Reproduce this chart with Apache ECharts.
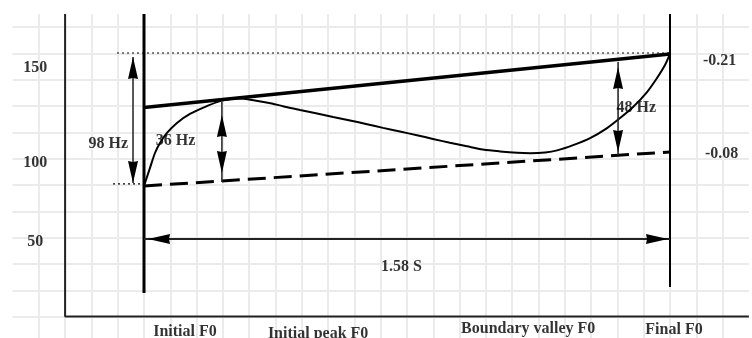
<!DOCTYPE html>
<html>
<head>
<meta charset="utf-8">
<title>F0 contour</title>
<style>
  html, body { margin: 0; padding: 0; background: #fff; }
  #chart { width: 752px; height: 338px; }
</style>
<script src="https://cdn.jsdelivr.net/npm/echarts@6/dist/echarts.min.js"></script>
</head>
<body>
<div id="chart"></div>
<script>
// F0 contour sketch: time in seconds, pitch in Hz

const f0Time = [0, 0.018, 0.033, 0.048, 0.069, 0.099, 0.138, 0.189, 0.234, 0.285,
  0.333, 0.384, 0.420, 0.469, 0.520, 0.568, 0.619, 0.670, 0.718, 0.769,
  0.820, 0.868, 0.919, 0.970, 1.018, 1.069, 1.121, 1.160, 1.205, 1.241,
  1.289, 1.340, 1.391, 1.430, 1.469, 1.511, 1.541, 1.565, 1.580];
const f0Hz = [84.3, 94.6, 103.1, 108.8, 114.5, 120.2, 125.3, 129.8, 132.9, 134.1,
  133.0, 131.3, 129.6, 127.6, 125.6, 123.6, 121.6, 119.5, 117.4, 115.3,
  113.2, 111.1, 108.9, 106.9, 105.1, 104.0, 103.2, 103.0, 103.4, 104.6,
  107.6, 111.6, 117.3, 123.0, 129.3, 137.8, 145.8, 153.2, 159.5];

// top line / base line of the contour (start, end)
const topHz = [129.0, 159.5];
const baseHz = [84.3, 103.7];
const lineSlopes = ['-0.21', '-0.08'];

const duration = 1.58;
const durationLabel = '1.58 S';

// pitch range arrows
const rangeLabels = ['98 Hz', '36 Hz', '48 Hz'];
const rangeTime = [-0.033, 0.234, 1.424];
const rangeLow = [86.0, 86.6, 102.0];
const rangeHigh = [157.7, 132.1, 154.9];

const yTickValues = [150, 100, 50];
const yTickLabels = ['150', '100', '50'];

const eventLabels = ['Initial F0', 'Initial peak F0', 'Boundary valley F0', 'Final F0'];

// ---- layout helpers ----
const X_CELL = 0.079;            // seconds per background grid cell
const T_MIN = -5 * X_CELL, T_MAX = 23 * X_CELL;
const HZ_MIN = -2.18, HZ_MAX = 182.2;

const FONT = { fontFamily: "'Liberation Serif', 'DejaVu Serif', serif", fontWeight: 'bold', fontSize: 16, color: '#000' };

const HEAD = {
  up: 'path://M5,0L10,22L5,21L0,22Z',
  down: 'path://M0,0L5,1L10,0L5,22Z',
  left: 'path://M0,5L22,0L21,5L22,10Z',
  right: 'path://M0,0L1,5L0,10L22,5Z'
};

function head(dir, inset) {
  const vertical = dir === 'up' || dir === 'down';
  const off = 11 + (inset || 0);
  const offset = { up: [0, off], down: [0, -off], left: [off, 0], right: [-off, 0] }[dir];
  return { symbol: HEAD[dir], symbolSize: vertical ? [10, 22] : [22, 10], symbolOffset: offset };
}

function arrow(p0, p1, dir0, dir1, insets, width) {
  return {
    type: 'line', silent: true, z: 6, xAxisIndex: 1, yAxisIndex: 1,
    lineStyle: { color: '#222', width: width || 1.5 },
    itemStyle: { color: '#000', borderWidth: 0 },
    data: [
      Object.assign({ value: p0 }, head(dir0, insets[0])),
      Object.assign({ value: p1 }, head(dir1, insets[1]))
    ]
  };
}

function plain(points, style, z) {
  return {
    type: 'line', silent: true, symbol: 'none', z: z || 3, xAxisIndex: 1, yAxisIndex: 1,
    lineStyle: style, data: points
  };
}

const rangeInsets = [[0, 0], [9, 13], [3, 5]];
const rangeLabelAt = [[-0.107, 108.5], [0.095, 109.9], [1.479, 129.0]];
const eventLabelAt = [[0.123, 1.2], [0.523, 0.3], [1.154, 3.2], [1.592, 2.2]];
const tickOffsets = [[0, -3], [0, 4], [0, -4]];

const notes = [];
rangeLabels.forEach((text, i) => notes.push({ name: text, value: rangeLabelAt[i] }));
notes.push({ name: durationLabel, value: [0.773, 38.2] });
eventLabels.forEach((text, i) => notes.push({ name: text, value: eventLabelAt[i] }));
yTickLabels.forEach((text, i) => notes.push({
  name: text, value: [-0.327, yTickValues[i]], label: { offset: tickOffsets[i] }
}));
notes.push({ name: lineSlopes[0], value: [duration, topHz[1]],
  label: { position: 'right', distance: 33, offset: [0, 7] } });
notes.push({ name: lineSlopes[1], value: [duration, baseHz[1]],
  label: { position: 'right', distance: 35, offset: [0, 2] } });

const hidden = { axisLine: { show: false }, axisTick: { show: false }, axisLabel: { show: false } };
const gridLine = { show: true, showMinLine: false, showMaxLine: false, lineStyle: { color: '#ebebeb', width: 2 } };

const chart = echarts.init(document.getElementById('chart'), null, { renderer: 'canvas' });

const series = [
  // axes frame
  plain([[-0.237, HZ_MAX], [-0.237, 10], [T_MAX, 10]], { color: '#222', width: 2 }, 2),
  // start / end markers
  plain([[0, HZ_MAX], [0, 23.4]], { color: '#000', width: 3 }, 4),
  plain([[duration, HZ_MAX], [duration, 26.8]], { color: '#000', width: 2 }, 4),
  // dotted guides
  plain([[-0.081, 160], [duration, 160]], { color: '#000', width: 1.2, type: [2, 3] }, 3),
  plain([[-0.093, 85.5], [0, 85.5]], { color: '#000', width: 1.2, type: [2, 3] }, 3),
  // top line and base line
  plain([[0, topHz[0]], [duration, topHz[1]]], { color: '#000', width: 3.5 }, 5),
  plain([[0, baseHz[0]], [duration, baseHz[1]]], { color: '#000', width: 3, type: [18, 8] }, 5),
  // F0 contour
  {
    type: 'line', silent: true, symbol: 'none', smooth: 0.3, z: 5, xAxisIndex: 1, yAxisIndex: 1,
    lineStyle: { color: '#000', width: 2 },
    data: f0Time.map((t, i) => [t, f0Hz[i]])
  },
  // duration arrow
  arrow([0, 54.2], [duration, 54.2], 'left', 'right', [4, 2], 2)
];

rangeTime.forEach((t, i) => {
  series.push(arrow([t, rangeLow[i]], [t, rangeHigh[i]], 'down', 'up', rangeInsets[i]));
});

series.push({
  type: 'scatter', silent: true, symbolSize: 0, z: 10, xAxisIndex: 1, yAxisIndex: 1,
  label: Object.assign({ show: true, position: 'inside', formatter: p => p.name }, FONT),
  data: notes
});

chart.setOption({
  animation: false,
  backgroundColor: '#fff',
  grid: [
    // horizontal background lines (every 26.36 px starting at y = 27)
    { left: 12.5, right: 3.1, top: 0.64, bottom: 0 },
    // vertical background lines and the sketch itself
    { left: 12.5, right: 3.1, top: 14, bottom: 0 }
  ],
  xAxis: [
    Object.assign({ gridIndex: 0, type: 'value', min: 0, max: 28, splitLine: { show: false } }, hidden),
    Object.assign({ gridIndex: 1, type: 'value', min: T_MIN, max: T_MAX, splitLine: { show: false } }, hidden),
    Object.assign({ gridIndex: 1, type: 'value', min: 0, max: 28, interval: 1, splitLine: gridLine }, hidden)
  ],
  yAxis: [
    Object.assign({ gridIndex: 0, type: 'value', inverse: true, min: 0, max: 12.798, interval: 1, splitLine: gridLine }, hidden),
    Object.assign({ gridIndex: 1, type: 'value', min: HZ_MIN, max: HZ_MAX, splitLine: { show: false } }, hidden)
  ],
  series: series
});
</script>
</body>
</html>
